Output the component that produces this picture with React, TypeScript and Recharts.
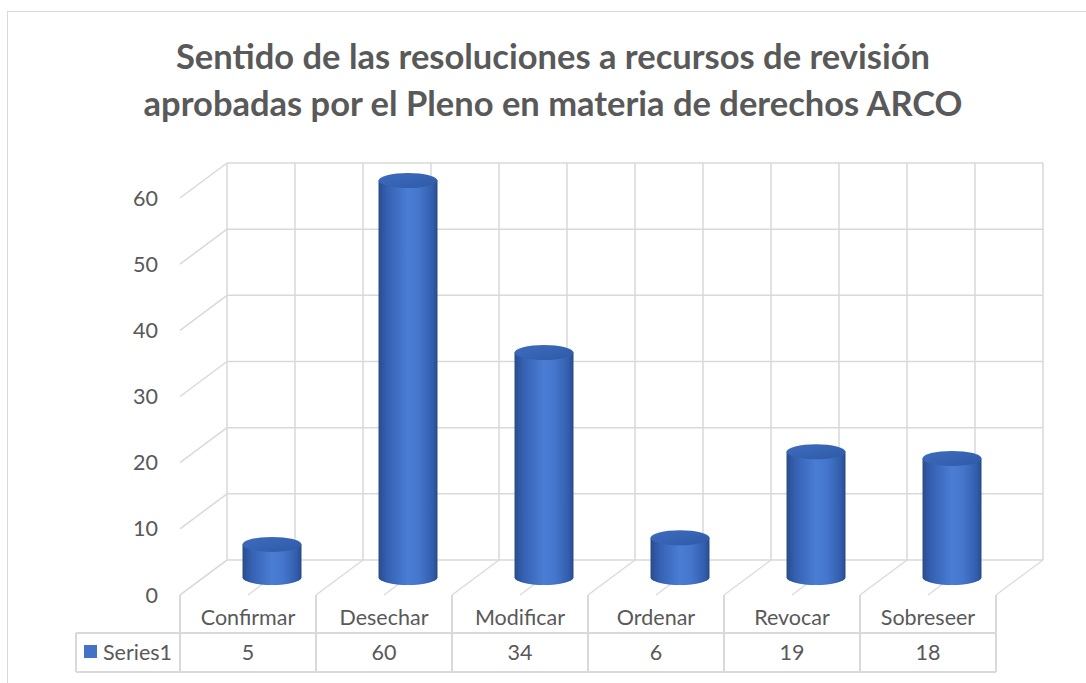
import React from "react";
import { BarChart, Bar, XAxis, YAxis, CartesianGrid } from "recharts";

const categories = ["Confirmar", "Desechar", "Modificar", "Ordenar", "Revocar", "Sobreseer"];
const series1 = [5, 60, 34, 6, 19, 18];
const yTicks = [0, 10, 20, 30, 40, 50, 60];
const seriesName = "Series1";
const titleLines = [
  "Sentido de las resoluciones a recursos de revisión",
  "aprobadas por el Pleno en materia de derechos ARCO",
];

const data = categories.map((name, i) => ({ name, value: series1[i] }));

// layout
const W = 1086;
const H = 683;
const PLOT_LEFT = 180;
const PLOT_RIGHT = 996;
const PLOT_TOP = 198;
const PLOT_BOTTOM = 595;
const DX = 47; // depth offset of the back wall
const DY = 35;
const GRID = "#D9D9D9";
const TEXT = "#595959";
const FONT = "Lato, 'Liberation Sans', sans-serif";
const ROW1 = 38;
const ROW2 = 77;
const HEADER_W = 104;

const Cylinder = (props: any) => {
  const { x, y, width, height, index } = props;
  const rx = width / 2;
  const ry = 7.5;
  const cx = x + rx + DX / 2;
  const top = y - DY / 2;
  const bottom = y + height - DY / 2;
  const l = cx - rx;
  const r = cx + rx;
  const gid = `cyl-${index}`;
  return (
    <g>
      <defs>
        <linearGradient id={gid} x1="0" y1="0" x2="1" y2="0">
          <stop offset="0" stopColor="#2A4C8C" />
          <stop offset="0.15" stopColor="#3561B2" />
          <stop offset="0.5" stopColor="#4A7DD4" />
          <stop offset="0.7" stopColor="#4475CB" />
          <stop offset="0.92" stopColor="#325DAB" />
          <stop offset="1" stopColor="#284A8A" />
        </linearGradient>
        <linearGradient id={gid + "t"} x1="0" y1="0" x2="1" y2="1">
          <stop offset="0" stopColor="#3E6CBF" />
          <stop offset="1" stopColor="#2E5AA6" />
        </linearGradient>
      </defs>
      <path
        d={`M${l},${top} L${l},${bottom} A${rx},${ry} 0 0 0 ${r},${bottom} L${r},${top} Z`}
        fill={`url(#${gid})`}
      />
      <ellipse cx={cx} cy={top} rx={rx} ry={ry} fill={`url(#${gid}t)`} />
    </g>
  );
};

const HLine = (p: any) => {
  const { x1, x2, y1 } = p;
  return (
    <g>
      <line x1={x1} y1={y1} x2={x1 + DX} y2={y1 - DY} stroke={GRID} strokeWidth={1.5} />
      <line x1={x1 + DX} y1={y1 - DY} x2={x2 + DX} y2={y1 - DY} stroke={GRID} strokeWidth={1.5} />
    </g>
  );
};

const VLine = (p: any) => {
  const { x1, y1, y2 } = p;
  return (
    <g>
      <line x1={x1 + DX} y1={y1 - DY} x2={x1 + DX} y2={y2 - DY} stroke={GRID} strokeWidth={1.5} />
      <line x1={x1} y1={y2} x2={x1 + DX} y2={y2 - DY} stroke={GRID} strokeWidth={1.2} />
    </g>
  );
};

const TableTick = (props: any) => {
  const { x, y, payload, index } = props;
  const band = (PLOT_RIGHT - PLOT_LEFT) / categories.length;
  const left = x - band / 2;
  const right = x + band / 2;
  const i = categories.indexOf(payload.value);
  const last = i === categories.length - 1;
  return (
    <g fontFamily={FONT} fontSize={21.5} fill={TEXT}>
      <line x1={left} y1={y} x2={left} y2={y + ROW2} stroke={GRID} strokeWidth={2} />
      {last && <line x1={right} y1={y} x2={right} y2={y + ROW2} stroke={GRID} strokeWidth={2} />}
      <line x1={left} y1={y + ROW1} x2={right} y2={y + ROW1} stroke={GRID} strokeWidth={2} />
      <line x1={left} y1={y + ROW2} x2={right} y2={y + ROW2} stroke={GRID} strokeWidth={2} />
      <text x={x} y={y + 30} textAnchor="middle">{payload.value}</text>
      <text x={x} y={y + 65} textAnchor="middle">{series1[i]}</text>
      {index === 0 && (
        <g>
          <line x1={left - HEADER_W} y1={y + ROW1} x2={left} y2={y + ROW1} stroke={GRID} strokeWidth={2} />
          <line x1={left - HEADER_W} y1={y + ROW2} x2={left} y2={y + ROW2} stroke={GRID} strokeWidth={2} />
          <line x1={left - HEADER_W} y1={y + ROW1} x2={left - HEADER_W} y2={y + ROW2} stroke={GRID} strokeWidth={2} />
          <rect x={left - HEADER_W + 8} y={y + 50} width={13} height={13} fill="#4472C4" />
          <text x={left - HEADER_W + 27} y={y + 65}>{seriesName}</text>
        </g>
      )}
    </g>
  );
};

export default function App() {
  return (
    <div style={{ position: "absolute", left: 0, top: 0, width: W, height: H, background: "#fff", overflow: "hidden" }}>
      <div
        style={{
          position: "absolute",
          left: 7,
          top: 11,
          width: W,
          height: H,
          borderTop: `1.5px solid ${GRID}`,
          borderLeft: `1.5px solid ${GRID}`,
        }}
      />
      <div
        style={{
          position: "absolute",
          left: 10,
          top: 32,
          width: W,
          textAlign: "center",
          fontFamily: FONT,
          fontWeight: 700,
          fontSize: 34.5,
          lineHeight: "47px",
          color: TEXT,
        }}
      >
        {titleLines.map((t) => (
          <div key={t}>{t}</div>
        ))}
      </div>
      <div style={{ position: "absolute", left: 0, top: 0 }}>
        <BarChart
          width={W}
          height={H}
          data={data}
          margin={{ top: PLOT_TOP, right: W - PLOT_RIGHT, left: PLOT_LEFT - 60, bottom: 10 }}
          barSize={59}
        >
          <CartesianGrid
            horizontal={HLine}
            vertical={VLine}
            verticalCoordinatesGenerator={({ offset }: any) =>
              Array.from({ length: categories.length * 2 + 1 }, (_, k) => offset.left + (k * offset.width) / (categories.length * 2))
            }
          />
          <XAxis
            dataKey="name"
            height={H - PLOT_BOTTOM - 10}
            axisLine={false}
            tickLine={false}
            tickSize={0}
            tickMargin={0}
            interval={0}
            tick={TableTick}
          />
          <YAxis
            width={60}
            domain={[0, 60]}
            ticks={yTicks}
            axisLine={false}
            tickLine={false}
            tickSize={0}
            tickMargin={22}
            tick={{ fill: TEXT, fontSize: 21.5, fontFamily: FONT }}
          />
          <Bar dataKey="value" shape={Cylinder} isAnimationActive={false} />
        </BarChart>
      </div>
    </div>
  );
}
